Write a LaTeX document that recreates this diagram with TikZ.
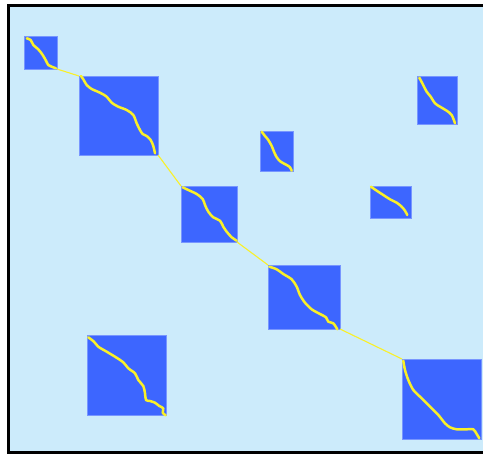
\documentclass[tikz,border=0pt]{standalone}
\usetikzlibrary{positioning}
\definecolor{skycol}{RGB}{204,235,251}
\definecolor{blkcol}{RGB}{61,102,255}
\definecolor{blkedge}{RGB}{120,150,255}
\definecolor{yelcol}{RGB}{250,240,40}
\tikzset{
  blk/.style 2 args={rectangle, anchor=north west, fill=blkcol, draw=blkedge,
    line width=0.3pt, inner sep=0pt, outer sep=0pt,
    minimum width=#1*0.2mm, minimum height=#2*0.2mm},
  trail/.style={draw=yelcol, line width=0.5mm, line cap=round, line join=round},
  link/.style={draw=yelcol, line width=0.22mm}
}
\begin{document}
\begin{tikzpicture}[x=0.02cm, y=-0.02cm]
    \useasboundingbox (0,0) rectangle (483,454);
    \fill[skycol] (9,6) rectangle (490,452);
    \draw[black, line width=0.5mm] (490,5.5) -- (8.5,5.5) -- (8.5,452.5) -- (490,452.5);

    \node[blk={33}{33}] (b1) at (24,36) {};
    \node[blk={79}{79}] (b2) at (79,76) {};
    \node[blk={33}{40}] (b3) at (260,131) {};
    \node[blk={40}{48}] (b4) at (417,76) {};
    \node[blk={56}{56}] (b5) at (181,186) {};
    \node[blk={41}{32}] (b6) at (370,186) {};
    \node[blk={72}{64}] (b7) at (268,265) {};
    \node[blk={79}{80}] (b8) at (87,335) {};
    \node[blk={79}{80}] (b9) at (402,359) {};

    \draw[link] (b1.south east) -- (b2.north west);
    \draw[link] (b2.south east) -- (b5.north west);
    \draw[link] (b5.south east) -- (b7.north west);
    \draw[link] (b7.south east) -- (b9.north west);

    \begin{scope}[shift={(b1.north west)}]
      \draw[trail] plot[smooth, tension=0.5] coordinates {(2.7,2.3) (6.7,4) (9.3,9) (14.3,13.3) (18.7,19) (22,24.7) (24.3,29) (27.7,30.7) (32,32.3)};
    \end{scope}
    \begin{scope}[shift={(b2.north west)}]
      \draw[trail] plot[smooth, tension=0.5] coordinates {(2,0) (4.3,3.3) (7.7,9) (12.7,13) (21,16.7) (27.7,20.7) (32.7,26.7) (39.3,30.7) (47.7,34) (54.3,39) (57.7,47.3) (61,54) (63.7,58) (67.7,60) (71.7,64) (74.3,70) (76,77.3)};
    \end{scope}
    \begin{scope}[shift={(b3.north west)}]
      \draw[trail] plot[smooth, tension=0.5] coordinates {(1.7,0.7) (5,5) (8.3,9) (11.7,15) (14,20.7) (16.7,26.3) (20.7,30.7) (26.7,34) (30,36.3) (31.7,39.7)};
    \end{scope}
    \begin{scope}[shift={(b4.north west)}]
      \draw[trail] plot[smooth, tension=0.5] coordinates {(2.3,1.7) (5.7,8) (9.7,15.7) (13.7,20.7) (18,27.3) (23,30.7) (29.7,34.7) (34.7,39) (38,47.3)};
    \end{scope}
    \begin{scope}[shift={(b5.north west)}]
      \draw[trail] plot[smooth, tension=0.5] coordinates {(1.7,1.3) (7.3,4) (15.7,8) (21.7,13) (24,19) (27.3,25.7) (32.3,31.3) (39,34.7) (42.3,40.7) (45.7,45.7) (50.7,51.3) (55.7,54.7)};
    \end{scope}
    \begin{scope}[shift={(b6.north west)}]
      \draw[trail] plot[smooth, tension=0.5] coordinates {(1,0.7) (6.7,4.7) (13.3,9) (20,13.3) (26.7,16.7) (31.7,20.7) (35,24.7) (37.3,29)};
    \end{scope}
    \begin{scope}[shift={(b7.north west)}]
      \draw[trail] plot[smooth, tension=0.5] coordinates {(1.3,1.7) (8.7,4.3) (15.3,9) (23.7,14.3) (28.7,21.7) (32,30) (37,37.7) (43.7,44.3) (52,49) (58,52.3) (60.3,56.7) (65.3,58.3) (69.3,64.3)};
    \end{scope}
    \begin{scope}[shift={(b8.north west)}]
      \draw[trail] plot[smooth, tension=0.5] coordinates {(1.3,2.3) (7,6.7) (11.3,11.7) (19.7,16.7) (28,21.7) (36.3,27.3) (41.3,33.3) (48,38.3) (51.3,45) (56.3,51) (58,58.3) (59,65) (63,66) (68,67.7) (72.3,71) (76.3,73.3) (75.7,77.7) (78.7,80.3)};
    \end{scope}
    \begin{scope}[shift={(b9.north west)}]
      \draw[trail] plot[smooth, tension=0.5] coordinates {(1.3,1.7) (3,11) (6.3,21) (11.3,31) (18,37.7) (28,47.7) (36.3,56) (43,64.3) (48,68.3) (54.7,70.3) (64.7,70.3) (71.3,70.3) (74.7,75) (77.3,79.3)};
    \end{scope}
  \end{tikzpicture}
\end{document}
